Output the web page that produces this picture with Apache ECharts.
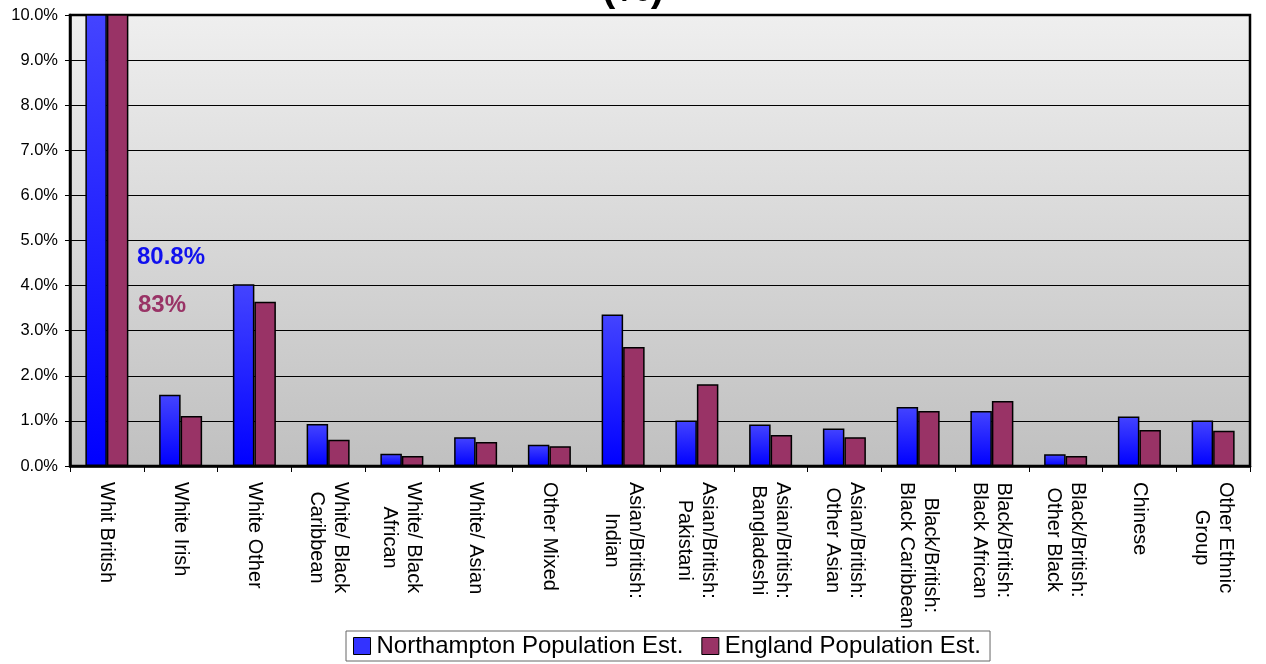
<!DOCTYPE html>
<html>
<head>
<meta charset="utf-8">
<script src="https://cdn.jsdelivr.net/npm/echarts@6/dist/echarts.min.js"></script>
<style>html,body{margin:0;padding:0;background:#fff}#c{width:1266px;height:664px}</style>
</head>
<body>
<div id="c"></div>
<script>
const categories = ["Whit British","White Irish","White Other","White/ Black\nCaribbean","White/ Black\nAfrican","White/ Asian","Other Mixed","Asian/British:\nIndian","Asian/British:\nPakistani","Asian/British:\nBangladeshi","Asian/British:\nOther Asian","Black/British:\nBlack Caribbean","Black/British:\nBlack African","Black/British:\nOther Black","Chinese","Other Ethnic\nGroup"];
const northampton = [80.8,1.58,4.03,0.93,0.27,0.64,0.47,3.36,1.01,0.92,0.83,1.31,1.22,0.26,1.1,1.01];
const england = [83,1.11,3.64,0.58,0.22,0.53,0.44,2.64,1.81,0.69,0.64,1.22,1.44,0.22,0.8,0.78];
const seriesNames = ["Northampton Population Est.","England Population Est."];
const yTicks = {min:0,max:10,interval:1};

const FF = 'Liberation Sans, Arial, sans-serif';
const chart = echarts.init(document.getElementById('c'));
const blueGrad = {type:'linear',x:0,y:0,x2:0,y2:1,colorStops:[{offset:0,color:'#4444ff'},{offset:1,color:'#0000ff'}]};
chart.setOption({
  animation:false,
  textStyle:{fontFamily:FF},
  title:{text:'(%)',left:'center',top:-35,textStyle:{fontSize:40,fontWeight:'bold',color:'#000',fontFamily:FF}},
  grid:{left:70,right:16,top:15,bottom:198,show:true,borderColor:'#000',borderWidth:2.5,
    backgroundColor:{type:'linear',x:0,y:0,x2:0,y2:1,colorStops:[{offset:0,color:'#efefef'},{offset:1,color:'#c0c0c0'}]}},
  legend:{bottom:3,left:346,icon:'rect',itemWidth:17,itemHeight:17,itemGap:18,borderColor:'#666',borderWidth:1,padding:[3,9,3,7],
    textStyle:{fontSize:24,color:'#000',padding:[0,0,0,1],fontFamily:FF},
    data:[{name:seriesNames[0],itemStyle:{color:'#3333ff',borderColor:'#000',borderWidth:1}},{name:seriesNames[1],itemStyle:{color:'#993366',borderColor:'#000',borderWidth:1}}]},
  xAxis:{type:'category',data:categories,
    axisLine:{lineStyle:{color:'#000',width:2.5}},
    axisTick:{show:true,length:6,lineStyle:{color:'#000',width:1}},
    axisLabel:{rotate:-90,interval:0,fontSize:20,lineHeight:24,color:'#000',margin:16,fontFamily:FF,
      formatter:v=>v.split('\n').map(l=>'{c|'+l+'}').join('\n'),
      rich:{c:{align:'center',fontSize:20,lineHeight:24,color:'#000',fontFamily:FF}}}},
  yAxis:{type:'value',min:yTicks.min,max:yTicks.max,interval:yTicks.interval,
    axisLine:{show:true,lineStyle:{color:'#000',width:2.5}},
    axisTick:{show:true,length:5,lineStyle:{color:'#000'}},
    splitLine:{lineStyle:{color:'#000',width:1}},
    axisLabel:{fontSize:16.5,color:'#000',margin:12,formatter:v=>v.toFixed(1)+'%',fontFamily:FF}},
  graphic:[
    {type:'text',left:137,top:245,style:{text:'80.8%',fontSize:24,fontWeight:'bold',fill:'#1010ee',fontFamily:FF}},
    {type:'text',left:138,top:293,style:{text:'83%',fontSize:24,fontWeight:'bold',fill:'#993366',fontFamily:FF}}
  ],
  series:[
    {name:seriesNames[0],type:'bar',data:northampton,barWidth:21.5,barGap:'0%',clip:true,
      itemStyle:{color:blueGrad,borderColor:'#000',borderWidth:1.5}},
    {name:seriesNames[1],type:'bar',data:england,barWidth:21.5,barGap:'0%',clip:true,
      itemStyle:{color:'#993366',borderColor:'#000',borderWidth:1.5}}
  ]
});
</script>
</body>
</html>
